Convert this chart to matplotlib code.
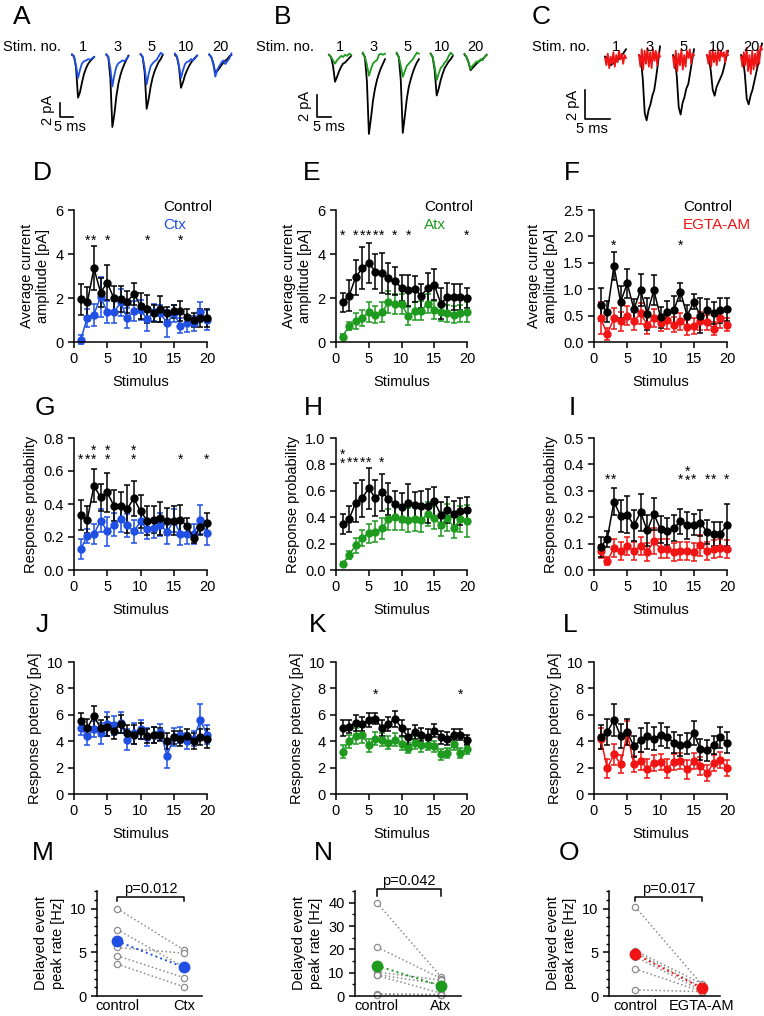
import numpy as np
import matplotlib
matplotlib.use('Agg')
import matplotlib.pyplot as plt

plt.rcParams['font.family'] = ['Liberation Sans', 'DejaVu Sans']
plt.rcParams['font.size'] = 10.5

W, H = 764, 1016
fig = plt.figure(figsize=(W / 100, H / 100), dpi=100)

BLUE = '#1f4fe3'
GREEN = '#1e9a1e'
RED = '#f01414'
GRAY = '#8c8c8c'

stim = np.arange(1, 21)
stim_labels = ['1', '3', '5', '10', '20']

# ---------------- example traces (pA samples) ----------------
A_ctrl = [
    [0.3, 0.1, -1.5, -5.8, -5.0, -3.6, -2.4, -1.6, -1.0, -0.6, -0.3, 0.0],
    [0.3, 0.0, -3.0, -10.0, -8.2, -5.6, -3.8, -2.6, -1.7, -1.0, -0.4, 0.2],
    [0.4, 0.0, -2.2, -7.4, -6.0, -4.2, -2.9, -2.0, -1.3, -0.7, -0.3, 0.3],
    [0.3, 0.0, -1.4, -4.4, -3.6, -2.6, -1.9, -1.3, -0.8, -0.4, -0.1, 0.2],
    [0.3, 0.0, -0.9, -2.3, -2.0, -1.6, -1.2, -0.8, -0.5, -0.3, 0.1, 0.3],
]
A_trt = [
    [0.4, 0.1, -1.2, -3.0, -1.8, -0.9, -0.6, -0.5, -0.3, -0.4, -0.2, 0.0],
    [0.4, 0.0, -1.6, -4.2, -2.6, -1.4, -0.9, -0.7, -0.5, -0.6, -0.3, 0.1],
    [0.4, 0.0, -1.5, -3.9, -2.4, -1.3, -0.9, -0.6, -0.4, 0.1, 0.6, 0.4],
    [0.5, 0.1, -1.2, -3.0, -1.9, -1.0, -0.7, -0.6, -0.3, -0.5, -0.2, 0.2],
    [0.4, 0.0, -1.0, -2.8, -1.8, -1.3, -0.8, -0.5, -1.0, -0.6, -0.2, 0.5],
]
B_ctrl = [
    [0.2, 0.0, -0.8, -2.25, -1.8, -1.3, -0.9, -0.6, -0.5, -0.3, -0.1, 0.1],
    [0.3, 0.0, -2.2, -7.0, -5.6, -4.0, -2.9, -2.1, -1.5, -1.0, -0.6, -0.2],
    [0.3, 0.0, -2.1, -6.9, -5.4, -3.8, -2.7, -2.0, -1.4, -0.9, -0.5, -0.2],
    [0.3, 0.0, -1.2, -3.5, -2.9, -2.1, -1.5, -1.0, -0.7, -0.4, -0.2, 0.1],
    [0.2, 0.0, -0.5, -1.2, -1.0, -0.8, -0.6, -0.4, -0.3, -0.2, 0.0, 0.2],
]
B_trt = [
    [0.2, 0.0, -0.3, -0.6, -0.3, -0.1, 0.1, 0.0, 0.2, 0.1, 0.3, 0.2],
    [0.4, 0.0, -0.7, -1.7, -1.1, -0.6, -0.4, -0.3, 0.2, 0.3, 0.2, 0.3],
    [0.4, 0.0, -0.8, -1.8, -1.3, -0.8, -0.6, -0.4, -0.2, 0.1, 0.4, 0.3],
    [0.3, 0.0, -0.9, -2.1, -1.5, -1.0, -0.8, -0.5, -0.3, 0.1, 0.4, 0.2],
    [0.3, 0.0, -0.5, -1.1, -0.8, -0.6, -0.4, -0.5, -0.2, -0.3, 0.0, 0.2],
]
C_ctrl = [
    [0.1, 0.0, -0.3, -0.5, -0.4, -0.3, -0.2, -0.1, 0.0, 0.2, 0.4, 0.6],
    [0.2, 0.0, -1.5, -3.8, -4.3, -3.6, -3.2, -2.6, -2.2, -1.3, -0.3, 0.8],
    [0.2, 0.0, -1.3, -3.4, -3.9, -3.1, -2.7, -2.1, -1.8, -1.0, -0.2, 0.6],
    [0.2, 0.0, -0.9, -2.2, -2.6, -2.0, -1.7, -1.4, -1.1, -0.6, 0.0, 0.5],
    [0.2, 0.0, -1.1, -2.8, -3.2, -2.6, -2.2, -1.6, -1.0, -0.4, 0.4, 1.0],
]
C_trt = [
    [0.0, -0.5, 0.3, -0.7, 0.1, -0.4, 0.4, -0.6, 0.2, -0.3, 0.5, -0.1, 0.3, -0.4, 0.2, 0.0],
    [0.2, -0.6, 0.6, -0.8, 0.5, -0.4, 0.7, -0.6, 0.4, -0.7, 0.6, -0.2, 0.5, -0.5, 0.4, 0.1],
    [0.1, -0.7, 0.5, -0.9, 0.3, -0.5, 0.6, -0.8, 0.2, -0.6, 0.5, 0.0, 0.6, -0.4, 0.3, 0.2],
    [0.2, -0.4, 0.5, -0.6, 0.6, -0.3, 0.4, -0.5, 0.6, -0.2, 0.5, 0.1, 0.4, -0.3, 0.5, 0.2],
    [0.1, -0.6, 0.4, -0.5, 0.7, -0.9, 0.2, -1.1, 0.5, -0.8, 0.3, -0.6, 0.6, -0.4, 0.8, 0.6],
]

# ---------------- D/E/F : average current amplitude ----------------
D_ctrl = [1.95, 1.8, 3.35, 2.25, 2.7, 1.98, 1.95, 1.82, 2.2, 1.65, 1.5, 1.3, 1.5, 1.3, 1.4, 1.4, 1.15, 1.0, 1.1, 1.1]
D_ctrl_err = [0.7, 0.7, 1.0, 0.65, 0.8, 0.55, 0.6, 0.5, 0.5, 0.6, 0.65, 0.4, 0.6, 0.3, 0.3, 0.45, 0.35, 0.3, 0.4, 0.4]
D_trt = [0.1, 1.1, 1.25, 2.05, 1.35, 1.35, 1.8, 1.1, 1.4, 1.45, 1.05, 1.35, 1.3, 0.85, 1.3, 0.75, 0.85, 0.85, 1.35, 1.0]
D_trt_err = [0.2, 0.4, 0.5, 0.9, 0.5, 0.5, 0.6, 0.45, 0.45, 0.45, 0.55, 0.4, 0.4, 0.6, 0.4, 0.35, 0.4, 0.35, 0.45, 0.45]

E_ctrl = [1.8, 2.1, 2.95, 3.35, 3.6, 3.2, 3.15, 2.9, 2.78, 2.45, 2.35, 2.4, 2.1, 2.45, 2.6, 1.75, 2.05, 2.05, 2.05, 2.0]
E_ctrl_err = [0.45, 0.7, 0.8, 0.95, 0.9, 0.8, 0.9, 0.7, 0.65, 0.6, 0.7, 0.6, 0.55, 0.7, 0.7, 0.7, 0.65, 0.6, 0.6, 0.45]
E_trt = [0.25, 0.73, 0.95, 1.1, 1.35, 1.25, 1.35, 1.8, 1.73, 1.73, 1.17, 1.4, 1.43, 1.75, 1.45, 1.35, 1.3, 1.25, 1.3, 1.35]
E_trt_err = [0.1, 0.2, 0.35, 0.35, 0.45, 0.4, 0.45, 0.5, 0.45, 0.45, 0.4, 0.4, 0.45, 0.45, 0.4, 0.4, 0.4, 0.4, 0.4, 0.45]

F_ctrl = [0.71, 0.57, 1.44, 0.76, 1.11, 0.62, 0.98, 0.53, 0.98, 0.47, 0.57, 0.6, 0.95, 0.5, 0.76, 0.5, 0.6, 0.55, 0.6, 0.62]
F_ctrl_err = [0.32, 0.2, 0.26, 0.3, 0.28, 0.2, 0.3, 0.3, 0.28, 0.2, 0.2, 0.27, 0.17, 0.2, 0.14, 0.33, 0.21, 0.2, 0.24, 0.22]
F_trt = [0.45, 0.15, 0.45, 0.39, 0.5, 0.39, 0.54, 0.33, 0.45, 0.36, 0.41, 0.33, 0.39, 0.28, 0.3, 0.4, 0.37, 0.25, 0.45, 0.33]
F_trt_err = [0.3, 0.12, 0.2, 0.18, 0.18, 0.17, 0.2, 0.18, 0.17, 0.15, 0.16, 0.15, 0.16, 0.14, 0.15, 0.17, 0.15, 0.12, 0.18, 0.13]

# ---------------- G/H/I : response probability ----------------
G_ctrl = [0.334, 0.306, 0.51, 0.44, 0.47, 0.39, 0.39, 0.37, 0.435, 0.355, 0.30, 0.306, 0.314, 0.294, 0.30, 0.306, 0.266, 0.194, 0.26, 0.286]
G_ctrl_err = [0.09, 0.08, 0.1, 0.08, 0.12, 0.095, 0.08, 0.145, 0.105, 0.1, 0.09, 0.08, 0.1, 0.08, 0.09, 0.09, 0.05, 0.03, 0.05, 0.06]
G_trt = [0.126, 0.206, 0.218, 0.30, 0.234, 0.274, 0.31, 0.27, 0.234, 0.294, 0.246, 0.254, 0.274, 0.23, 0.30, 0.22, 0.22, 0.22, 0.306, 0.224]
G_trt_err = [0.06, 0.04, 0.06, 0.07, 0.09, 0.07, 0.08, 0.07, 0.07, 0.07, 0.06, 0.06, 0.07, 0.07, 0.07, 0.07, 0.06, 0.06, 0.085, 0.07]

H_ctrl = [0.346, 0.385, 0.51, 0.545, 0.62, 0.545, 0.59, 0.54, 0.50, 0.474, 0.51, 0.49, 0.485, 0.485, 0.52, 0.418, 0.454, 0.423, 0.444, 0.454]
H_ctrl_err = [0.075, 0.1, 0.15, 0.14, 0.155, 0.135, 0.14, 0.12, 0.1, 0.11, 0.14, 0.1, 0.11, 0.13, 0.11, 0.1, 0.1, 0.1, 0.1, 0.1]
H_trt = [0.044, 0.115, 0.187, 0.244, 0.277, 0.29, 0.315, 0.385, 0.40, 0.39, 0.377, 0.385, 0.377, 0.423, 0.397, 0.34, 0.397, 0.32, 0.385, 0.37]
H_trt_err = [0.015, 0.03, 0.057, 0.06, 0.07, 0.08, 0.08, 0.08, 0.1, 0.09, 0.09, 0.09, 0.09, 0.09, 0.09, 0.08, 0.1, 0.08, 0.1, 0.12]

I_ctrl = [0.0875, 0.119, 0.259, 0.204, 0.209, 0.169, 0.219, 0.15, 0.2125, 0.154, 0.146, 0.159, 0.184, 0.169, 0.171, 0.179, 0.144, 0.1375, 0.1375, 0.171]
I_ctrl_err = [0.037, 0.03, 0.05, 0.06, 0.07, 0.06, 0.07, 0.06, 0.06, 0.05, 0.05, 0.05, 0.047, 0.05, 0.04, 0.05, 0.044, 0.046, 0.045, 0.08]
I_trt = [0.071, 0.034, 0.084, 0.071, 0.091, 0.071, 0.091, 0.069, 0.109, 0.081, 0.081, 0.069, 0.071, 0.071, 0.069, 0.094, 0.071, 0.079, 0.084, 0.079]
I_trt_err = [0.025, 0.015, 0.035, 0.035, 0.035, 0.035, 0.035, 0.035, 0.05, 0.035, 0.035, 0.035, 0.035, 0.035, 0.035, 0.04, 0.035, 0.035, 0.035, 0.035]

# ---------------- J/K/L : response potency ----------------
J_ctrl = [5.5, 5.0, 5.9, 5.0, 5.1, 4.8, 5.3, 4.6, 4.5, 4.8, 4.4, 4.5, 4.5, 4.0, 4.3, 4.2, 4.4, 4.0, 4.3, 4.2]
J_ctrl_err = [0.6, 0.7, 0.8, 0.6, 0.7, 0.6, 0.7, 0.6, 0.7, 0.6, 0.5, 0.6, 0.5, 0.6, 0.5, 0.6, 0.5, 0.6, 0.6, 0.7]
J_trt = [5.0, 4.4, 4.9, 4.6, 5.3, 5.2, 5.4, 4.1, 4.6, 4.9, 4.3, 4.5, 4.7, 2.9, 4.3, 4.5, 4.0, 4.2, 5.6, 4.5]
J_trt_err = [0.5, 0.7, 0.6, 0.8, 0.9, 0.7, 0.8, 0.8, 0.8, 0.7, 0.7, 0.6, 0.6, 0.95, 0.7, 0.6, 0.6, 0.6, 1.2, 0.7]

K_ctrl = [5.0, 5.1, 5.4, 5.3, 5.6, 5.7, 5.0, 5.3, 5.7, 5.0, 4.3, 4.7, 4.5, 4.3, 4.8, 4.3, 4.2, 4.5, 4.5, 4.1]
K_ctrl_err = [0.6, 0.5, 0.6, 0.5, 0.5, 0.4, 0.6, 0.5, 0.6, 0.6, 0.6, 0.5, 0.5, 0.6, 0.5, 0.5, 0.5, 0.4, 0.4, 0.4]
K_trt = [3.2, 4.0, 4.4, 4.5, 3.7, 4.2, 4.1, 3.9, 4.1, 3.8, 3.5, 3.9, 3.7, 3.7, 3.6, 3.0, 3.1, 3.8, 3.1, 3.4]
K_trt_err = [0.5, 0.5, 0.6, 0.6, 0.5, 0.5, 0.5, 0.5, 0.5, 0.5, 0.4, 0.5, 0.5, 0.4, 0.4, 0.4, 0.4, 0.5, 0.4, 0.4]

L_ctrl = [4.3, 4.7, 5.6, 4.4, 4.7, 3.6, 4.1, 4.4, 4.2, 4.5, 4.3, 3.9, 3.7, 3.8, 4.6, 3.4, 3.3, 3.7, 4.3, 3.9]
L_ctrl_err = [0.9, 1.0, 1.2, 0.9, 1.0, 0.8, 0.9, 1.0, 0.9, 0.9, 0.8, 0.8, 0.8, 0.8, 0.9, 0.8, 0.8, 0.7, 0.8, 0.8]
L_trt = [4.2, 1.95, 3.0, 2.26, 4.6, 2.26, 2.5, 1.92, 2.38, 2.44, 1.92, 2.44, 2.5, 1.87, 2.5, 2.13, 1.56, 2.38, 2.6, 2.0]
L_trt_err = [0.8, 0.7, 0.8, 0.7, 0.9, 0.6, 0.7, 0.7, 0.6, 0.6, 0.7, 0.6, 0.6, 0.7, 0.6, 0.7, 0.6, 0.6, 0.6, 0.6]

# significance stars (stimulus numbers); *_double = two stacked asterisks
D_stars = [2, 3, 5, 11, 16]
E_stars = [1, 3, 4, 5, 6, 7, 9, 11, 20]
F_stars = [3, 13]
G_stars = [1, 2, 16, 20]
G_double = [3, 5, 9]
H_stars = [2, 3, 4, 5, 7]
H_double = [1]
I_stars = [2, 3, 13, 15, 17, 18, 20]
I_double = [14]
K_stars = [6, 19]

# ---------------- M/N/O : delayed event peak rate ----------------
M_ctrl = [10.0, 7.6, 5.55, 4.6, 3.65]
M_trt = [5.25, 3.3, 4.9, 2.1, 1.05]
M_mean = [6.27, 3.27]
N_ctrl = [40.0, 21.0, 10.3, 9.2, 8.8, 1.0, 0.6]
N_trt = [8.2, 7.5, 6.8, 5.0, 1.2, 0.6, 0.4]
N_mean = [13.0, 4.3]
O_ctrl = [10.2, 5.2, 5.0, 4.5, 3.1, 0.7]
O_trt = [1.3, 1.4, 1.0, 0.6, 0.5, 0.5]
O_mean = [4.8, 0.9]


def px_axes(x0, y0, x1, y1):
    return fig.add_axes([x0 / W, 1 - y1 / H, (x1 - x0) / W, (y1 - y0) / H])


def panel_letter(x, y, s):
    fig.text(x / W, 1 - y / H, s, fontsize=19, ha='center', va='center')


def style_axes(ax):
    for s in ('top', 'right'):
        ax.spines[s].set_visible(False)
    for s in ('left', 'bottom'):
        ax.spines[s].set_linewidth(1.1)
    ax.tick_params(direction='out', length=4, width=1.1, labelsize=10.5)


# ---------------- trace panels ----------------
def trace_panel(x0, base, ppms, pppa, ctrl, trt, color, gap_ms, width_ms,
                bar_x, bar_bottom_px, label_x, stim_x, row_y=47):
    ax = fig.add_axes([0, 0, 1, 1])
    ax.axis('off')
    ax.patch.set_alpha(0)
    ax.set_xlim(-x0 / ppms, (W - x0) / ppms)
    ax.set_ylim(-(H - base) / pppa, base / pppa)
    bar_y = -(bar_bottom_px - base) / pppa
    for k in range(5):
        for tr, c in ((ctrl[k], 'black'), (trt[k], color)):
            n = len(tr)
            t = k * gap_ms + np.arange(n) * width_ms / (n - 1)
            ax.plot(t, tr, color=c, lw=1.3)
        ax.text(k * gap_ms + width_ms / 2, (base - row_y) / pppa, stim_labels[k],
                ha='center', va='center', fontsize=10.5)
    ax.text(stim_x / ppms, (base - row_y) / pppa, 'Stim. no.', ha='left', va='center', fontsize=10.5)
    # scale bars
    ax.plot([bar_x, bar_x, bar_x + 5], [bar_y + 2, bar_y, bar_y], color='black', lw=1.2)
    ax.text(bar_x - 5 / ppms, bar_y + 1, '2 pA', rotation=90, ha='right', va='center', fontsize=10.5)
    ax.text(label_x, bar_y - 3 / pppa, '5 ms', ha='center', va='top', fontsize=10.5)


trace_panel(72, 57, 2.6, 7.0, A_ctrl, A_trt, BLUE, 13.2, 8.5, -4.6, 117, -0.8, -69)
trace_panel(329, 57, 2.8, 11.0, B_ctrl, B_trt, GREEN, 12.1, 7.9, -4.3, 117, 0.0, -73)
trace_panel(605, 58, 5.0, 14.5, C_ctrl, C_trt, RED, 6.8, 4.2, -4.0, 119, -2.6, -73)

for x, y, s in ((22, 17, 'A'), (283, 17, 'B'), (541, 17, 'C')):
    panel_letter(x, y, s)


# ---------------- stimulus panels ----------------
def stim_panel(box, ctrl, ctrl_err, trt, trt_err, color, ymax, ystep, fmt,
               ylabel, stars, star_y, doubles=(), legend=None):
    ax = px_axes(*box)
    for y, e, c in ((trt, trt_err, color), (ctrl, ctrl_err, 'black')):
        ax.errorbar(stim, y, yerr=e, color=c, marker='o', ms=5, lw=1.1,
                    elinewidth=1.1, capsize=2.5, capthick=1.1)
    for art in ax.get_children():
        art.set_clip_on(False)
    ax.set_xlim(0, 20)
    ax.set_ylim(0, ymax)
    ax.set_xticks([0, 5, 10, 15, 20])
    ax.set_yticks(np.arange(0, ymax + ystep / 2, ystep))
    ax.set_yticklabels([fmt.format(v) for v in np.arange(0, ymax + ystep / 2, ystep)])
    style_axes(ax)
    ax.set_xlabel('Stimulus', fontsize=10.5, labelpad=6)
    ax.set_ylabel(ylabel, fontsize=10.5, labelpad=4)
    for s in stars:
        ax.text(s, star_y, '*', ha='center', va='center', fontsize=10)
    for s in doubles:
        ax.annotate('*\n*', (s, star_y), xytext=(0, 3), textcoords='offset points',
                    ha='center', va='center', fontsize=10, linespacing=0.55)
    if legend:
        ax.text(0.67, 1.02, 'Control', transform=ax.transAxes, ha='left', va='center', fontsize=11)
        ax.text(0.67, 0.885, legend[0], transform=ax.transAxes, ha='left', va='center',
                fontsize=11, color=legend[1])
    return ax


amp_label = 'Average current\namplitude [pA]'
prob_label = 'Response probability'
pot_label = 'Response potency [pA]'

stim_panel((74, 210, 207, 342), D_ctrl, D_ctrl_err, D_trt, D_trt_err, BLUE, 6, 2, '{:.0f}',
           amp_label, D_stars, 4.6, legend=('Ctx', BLUE))
stim_panel((336, 210, 467, 342), E_ctrl, E_ctrl_err, E_trt, E_trt_err, GREEN, 6, 2, '{:.0f}',
           amp_label, E_stars, 4.85, legend=('Atx', GREEN))
stim_panel((594, 210, 727, 342), F_ctrl, F_ctrl_err, F_trt, F_trt_err, RED, 2.5, 0.5, '{:.1f}',
           amp_label, F_stars, 1.83, legend=('EGTA-AM', RED))

stim_panel((74, 438, 207, 570), G_ctrl, G_ctrl_err, G_trt, G_trt_err, BLUE, 0.8, 0.2, '{:.1f}',
           prob_label, G_stars, 0.67, G_double)
stim_panel((336, 438, 467, 570), H_ctrl, H_ctrl_err, H_trt, H_trt_err, GREEN, 1.0, 0.2, '{:.1f}',
           prob_label, H_stars, 0.81, H_double)
stim_panel((594, 438, 727, 570), I_ctrl, I_ctrl_err, I_trt, I_trt_err, RED, 0.5, 0.1, '{:.1f}',
           prob_label, I_stars, 0.34, I_double)

stim_panel((74, 662, 207, 794), J_ctrl, J_ctrl_err, J_trt, J_trt_err, BLUE, 10, 2, '{:.0f}',
           pot_label, [], 0)
stim_panel((336, 662, 467, 794), K_ctrl, K_ctrl_err, K_trt, K_trt_err, GREEN, 10, 2, '{:.0f}',
           pot_label, K_stars, 7.55)
stim_panel((594, 662, 727, 794), L_ctrl, L_ctrl_err, L_trt, L_trt_err, RED, 10, 2, '{:.0f}',
           pot_label, [], 0)

for x, y, s in ((42, 173, 'D'), (312, 173, 'E'), (572, 173, 'F'),
                (45, 408, 'G'), (313, 408, 'H'), (572, 408, 'I'),
                (42, 625, 'J'), (318, 625, 'K'), (570, 625, 'L'),
                (43, 853, 'M'), (323, 853, 'N'), (569, 853, 'O')):
    panel_letter(x, y, s)


# ---------------- paired panels ----------------
def pair_panel(box, xl, ctrl, trt, mean, color, ymax, major, minor, cond, pval,
               br_y, br_tick, txt_y):
    ax = px_axes(*box)
    for a, b in zip(ctrl, trt):
        ax.plot([0, 1], [a, b], color=GRAY, ls=':', lw=1.1, marker='o', ms=4.5,
                mfc='white', mec=GRAY, mew=0.9, clip_on=False)
    ax.plot([0, 1], mean, color=color, ls=':', lw=1.4, marker='o', ms=7.5,
            mfc=color, mec=color, clip_on=False, zorder=5)
    ax.set_xlim(*xl)
    ax.set_ylim(0, ymax)
    ax.set_yticks(major)
    ax.set_yticks(minor, minor=True)
    ax.set_xticks([0, 1])
    ax.set_xticklabels(['control', cond])
    style_axes(ax)
    ax.tick_params(axis='y', which='minor', length=2.5, width=1.0)
    ax.tick_params(axis='x', length=0, pad=2, labelsize=10.5)
    ax.tick_params(axis='y', labelsize=10.5)
    ax.set_ylabel('Delayed event\npeak rate [Hz]', fontsize=10.5, labelpad=4)
    ax.plot([0, 0, 1, 1], [br_tick, br_y, br_y, br_tick], color='black', lw=1.1, clip_on=False)
    ax.text(0.5, txt_y, pval, ha='center', va='bottom', fontsize=10.5)
    return ax


pair_panel((97, 891, 202, 996), (-0.3, 1.27), M_ctrl, M_trt, M_mean, BLUE, 12,
           [0, 5, 10], np.arange(0, 12.1, 1), 'Ctx', 'p=0.012', 11.35, 10.85, 11.45)
pair_panel((355, 891, 461, 996), (-0.34, 1.31), N_ctrl, N_trt, N_mean, GREEN, 45,
           [0, 10, 20, 30, 40], np.arange(0, 45.1, 5), 'Atx', 'p=0.042', 46.0, 43.0, 46.3)
pair_panel((609, 891, 720, 996), (-0.39, 1.27), O_ctrl, O_trt, O_mean, RED, 12,
           [0, 5, 10], np.arange(0, 12.1, 1), 'EGTA-AM', 'p=0.017', 11.35, 10.85, 11.45)

fig.savefig('out.png', dpi=100)
